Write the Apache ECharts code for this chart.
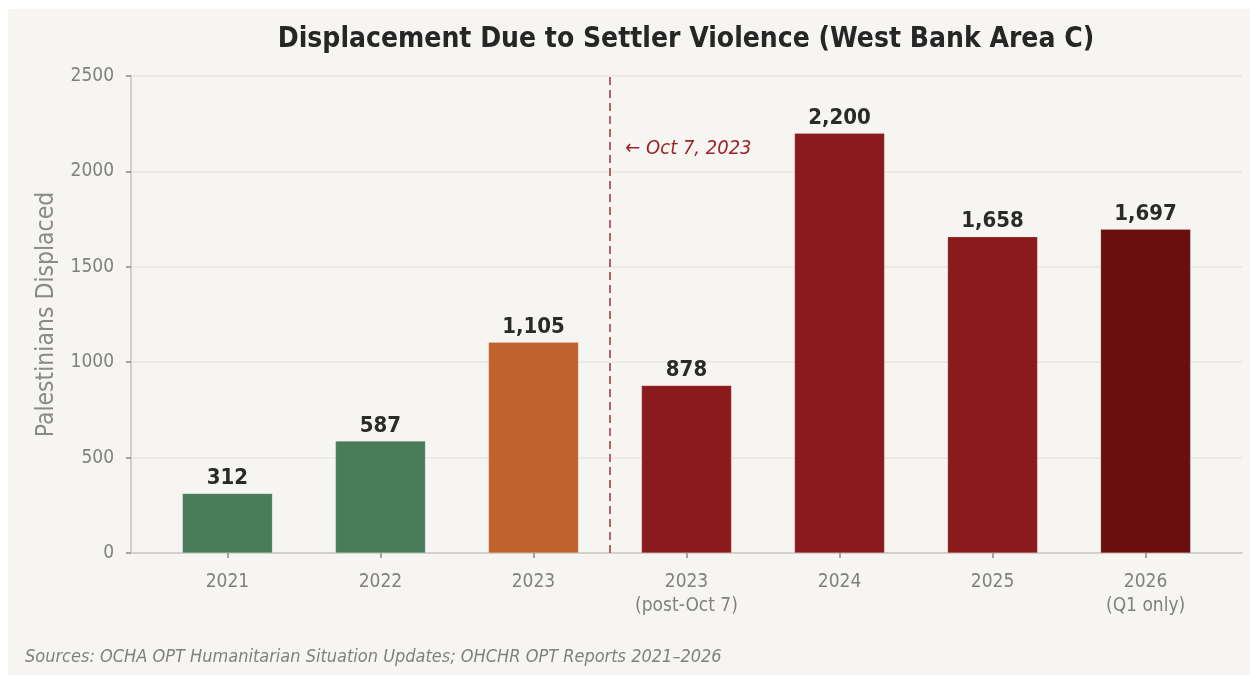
<!DOCTYPE html>
<html>
<head>
<meta charset="utf-8">
<script src="https://cdn.jsdelivr.net/npm/echarts@6/dist/echarts.min.js"></script>
<style>
  html, body { margin: 0; padding: 0; background: #ffffff; }
  #chart { position: absolute; left: 8px; top: 9px; width: 1242px; height: 666px; }
</style>
</head>
<body>
<div id="chart"></div>
<script>
// chart data
const categories = ['2021', '2022', '2023', '2023\n(post-Oct 7)', '2024', '2025', '2026\n(Q1 only)']
const displaced = [312, 587, 1105, 878, 2200, 1658, 1697]
const yTicks = [0, 500, 1000, 1500, 2000, 2500]

// bar colours per period
const barColors = ['#4a7c59', '#4a7c59', '#c0622d', '#8b1a1c', '#8b1a1c', '#8b1a1c', '#6a0f0f']

const font = '"DejaVu Sans Condensed", "DejaVu Sans"'
const chart = echarts.init(document.getElementById('chart'))

chart.setOption({
  backgroundColor: '#f6f5f1',
  animation: false,
  textStyle: { fontFamily: font },
  graphic: [
    {
      type: 'text',
      x: 678,
      y: 31,
      style: {
        text: 'Displacement Due to Settler Violence (West Bank Area C)',
        font: 'bold 28px ' + font,
        fill: '#262626',
        textAlign: 'center',
        textVerticalAlign: 'middle'
      }
    },
    {
      type: 'text',
      x: 17,
      y: 648,
      style: {
        text: 'Sources: OCHA OPT Humanitarian Situation Updates; OHCHR OPT Reports 2021\u20132026',
        font: 'italic 18px ' + font,
        fill: '#808080',
        textVerticalAlign: 'middle'
      }
    }
  ],
  grid: { left: 123, top: 67, right: 8, bottom: 122 },
  xAxis: {
    type: 'value',
    min: -0.63,
    max: 6.63,
    splitLine: { show: false },
    axisLine: { lineStyle: { color: '#d2d0cb', width: 2 } },
    axisTick: {
      show: true,
      customValues: categories.map((c, i) => i),
      length: 5,
      lineStyle: { color: '#8a8a8a', width: 1.5 }
    },
    axisLabel: {
      customValues: categories.map((c, i) => i),
      formatter: v => categories[Math.round(v)],
      fontFamily: font,
      color: '#808080',
      fontSize: 19,
      lineHeight: 24,
      margin: 17
    }
  },
  yAxis: {
    type: 'value',
    min: 0,
    max: 2500,
    interval: 500,
    name: 'Palestinians Displaced',
    nameLocation: 'middle',
    nameGap: 72,
    nameTextStyle: { color: '#8a8a8a', fontSize: 24.5, fontFamily: font },
    axisLine: { show: true, onZero: false, lineStyle: { color: '#d2d0cb', width: 2 } },
    axisTick: { show: true, length: 5, lineStyle: { color: '#8a8a8a', width: 1.5 } },
    axisLabel: {
      color: '#808080',
      fontSize: 19,
      fontFamily: font,
      margin: 17,
      customValues: yTicks,
      formatter: v => String(v)
    },
    splitLine: { lineStyle: { color: '#e8e6e1', width: 1.5 } }
  },
  series: [
    {
      type: 'bar',
      barWidth: 90,
      data: displaced.map((v, i) => ({
        value: [i, v],
        itemStyle: { color: barColors[i] }
      })),
      itemStyle: { borderColor: 'rgba(255,255,255,0.35)', borderWidth: 0.5 },
      label: {
        show: true,
        position: 'top',
        distance: 4,
        formatter: p => p.value[1].toLocaleString('en-US'),
        fontFamily: font,
        color: '#2a2a2a',
        fontSize: 22,
        fontWeight: 'bold'
      },
      markLine: {
        silent: true,
        symbol: 'none',
        label: { show: false },
        lineStyle: { color: '#b5606a', width: 2, type: [8, 5] },
        data: [{ xAxis: 2.5 }]
      },
      markPoint: {
        silent: true,
        symbol: 'circle',
        symbolSize: 0,
        label: {
          show: true,
          position: 'right',
          distance: 0,
          formatter: '\u2190 Oct 7, 2023',
          fontFamily: font,
          color: '#9b2226',
          fontSize: 20,
          fontStyle: 'italic'
        },
        data: [{ coord: [2.6, 2118] }]
      }
    }
  ]
})
</script>
</body>
</html>
